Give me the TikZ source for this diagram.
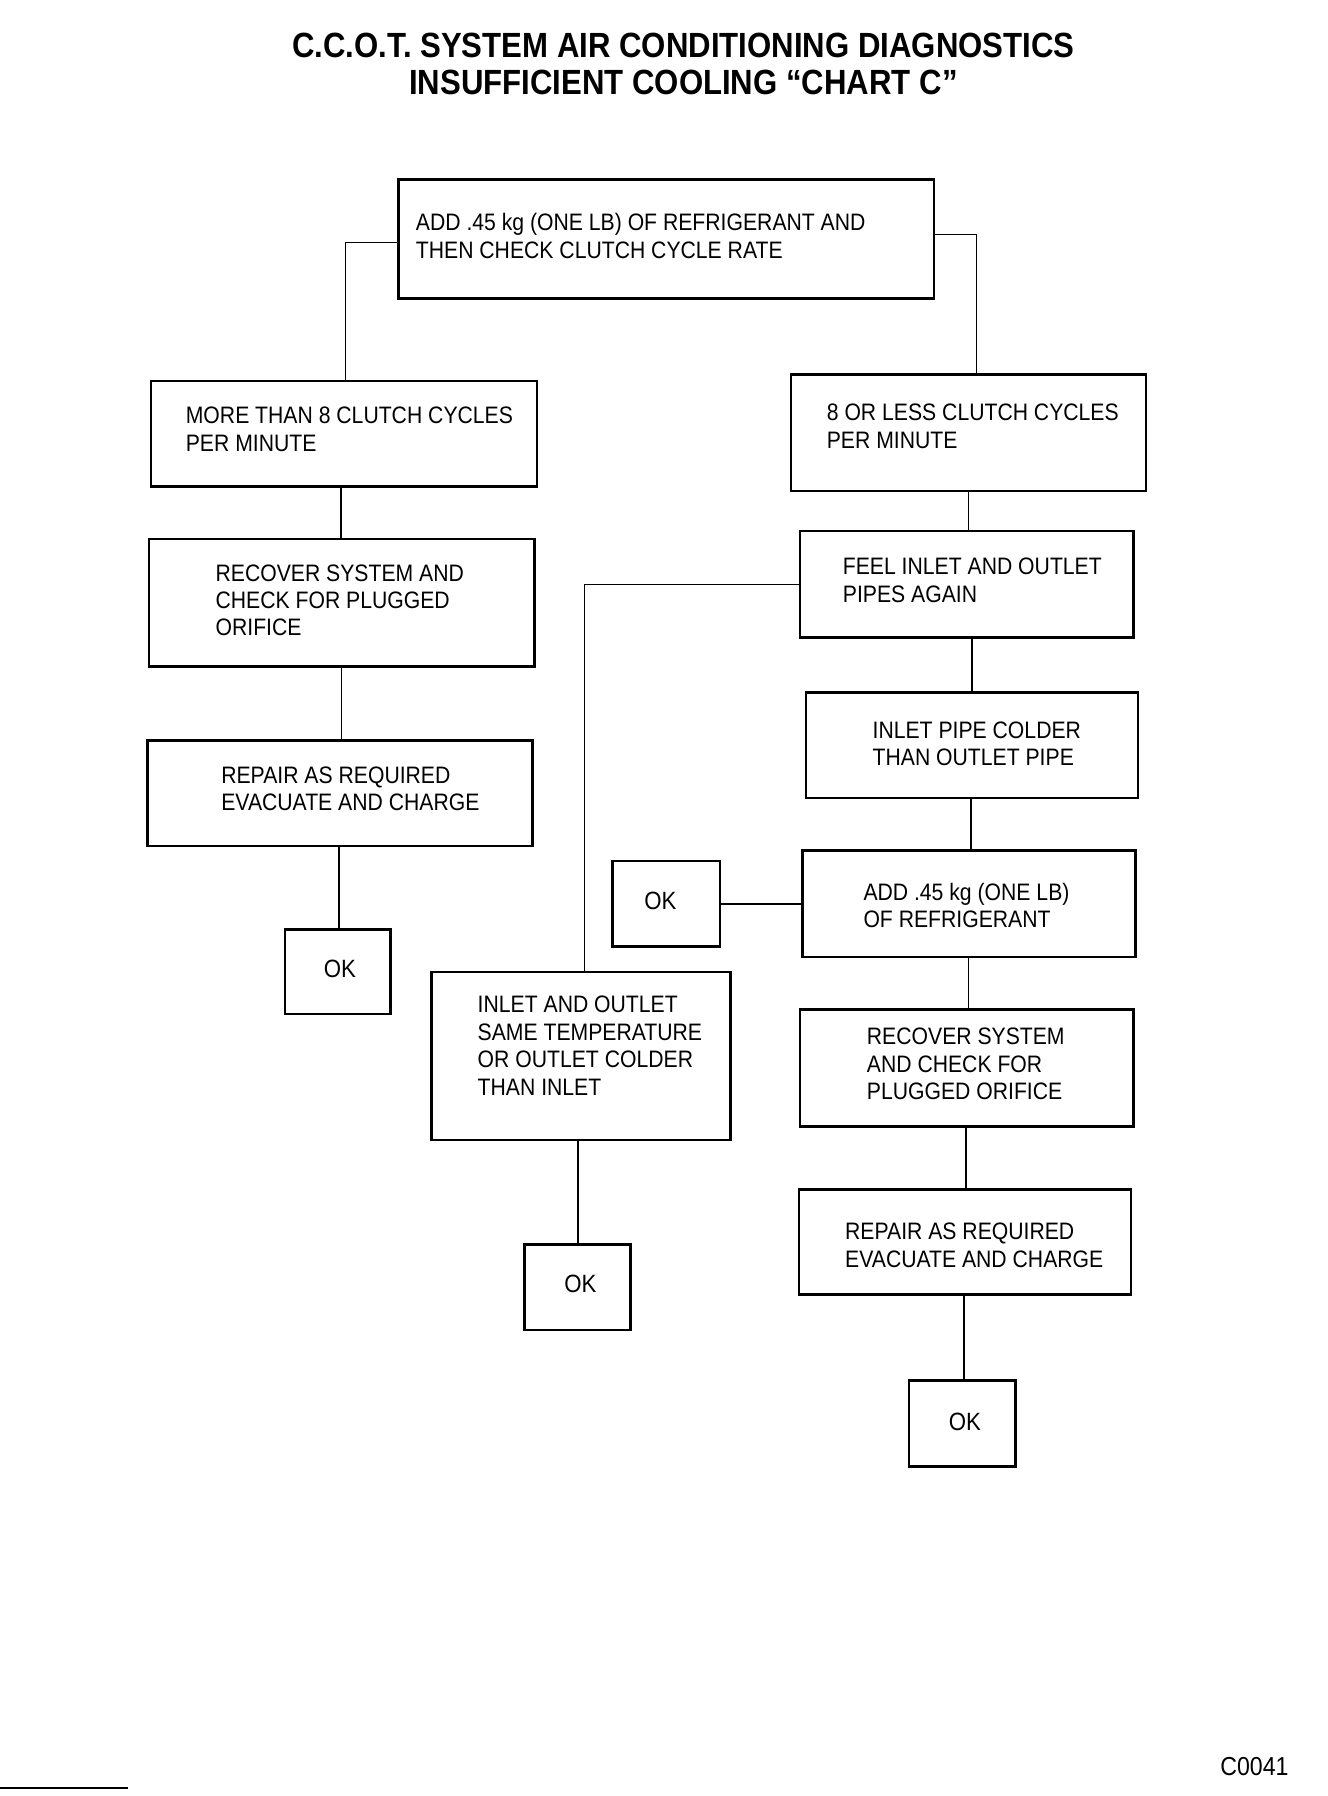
\documentclass[tikz,border=0pt]{standalone}
\usepackage{fontspec}
\setmainfont{Liberation Sans}[FakeStretch=0.89]
\usetikzlibrary{calc}
\def\unitpx{0.5724pt}
\tikzset{
  box/.style={draw, line width=1.3pt, inner sep=0pt, rectangle},
  txt/.style={inner sep=0pt, align=left, anchor=west, font=\fontsize{11.9}{13.7}\selectfont},
  oktxt/.style={inner sep=0pt, font=\fontsize{12.5}{14}\selectfont},
  conn/.style={line width=0.8pt},
}
\begin{document}
\begin{tikzpicture}[x=\unitpx, y=-\unitpx]
\useasboundingbox (0,0) rectangle (1160,1569);

% title
\node[inner sep=0pt, align=center, font=\fontsize{17.5}{18.6}\selectfont\bfseries] (title) at (597,56)
  {C.C.O.T. SYSTEM AIR CONDITIONING DIAGNOSTICS\\INSUFFICIENT COOLING “CHART C”};

% boxes
\node[box, minimum width=468*\unitpx, minimum height=104*\unitpx] (b1) at (582,209) {};
\node[box, minimum width=337*\unitpx, minimum height=92*\unitpx] (b2) at (300.5,379) {};
\node[box, minimum width=310*\unitpx, minimum height=102*\unitpx] (b3) at (846,378) {};
\node[box, minimum width=337*\unitpx, minimum height=111*\unitpx] (b4) at (298.5,526.5) {};
\node[box, minimum width=336*\unitpx, minimum height=92*\unitpx] (b5) at (297,693) {};
\node[box, minimum width=92*\unitpx, minimum height=74*\unitpx] (ok1) at (295,849) {};
\node[box, minimum width=291*\unitpx, minimum height=93*\unitpx] (b7) at (844.5,510.5) {};
\node[box, minimum width=290*\unitpx, minimum height=92*\unitpx] (b8) at (849,651) {};
\node[box, minimum width=291*\unitpx, minimum height=93*\unitpx] (b9) at (846.5,789.5) {};
\node[box, minimum width=94*\unitpx, minimum height=75*\unitpx] (ok2) at (582,789.5) {};
\node[box, minimum width=291*\unitpx, minimum height=102*\unitpx] (b11) at (844.5,933) {};
\node[box, minimum width=290*\unitpx, minimum height=92*\unitpx] (b12) at (843,1085) {};
\node[box, minimum width=93*\unitpx, minimum height=75*\unitpx] (ok4) at (840.5,1243.5) {};
\node[box, minimum width=261*\unitpx, minimum height=147*\unitpx] (b10) at (507.5,922.5) {};
\node[box, minimum width=93*\unitpx, minimum height=75*\unitpx] (ok3) at (504.5,1124.5) {};

% texts
\node[txt] (t1) at (363,206) {ADD .45 kg (ONE LB) OF REFRIGERANT AND\\THEN CHECK CLUTCH CYCLE RATE};
\node[txt] (t2) at (162,375) {MORE THAN 8 CLUTCH CYCLES\\PER MINUTE};
\node[txt] (t3) at (722,372.5) {8 OR LESS CLUTCH CYCLES\\PER MINUTE};
\node[txt] (t4) at (188,524.5) {RECOVER SYSTEM AND\\CHECK FOR PLUGGED\\ORIFICE};
\node[txt] (t5) at (193,689) {REPAIR AS REQUIRED\\EVACUATE AND CHARGE};
\node[txt] (t7) at (736,507) {FEEL INLET AND OUTLET\\PIPES AGAIN};
\node[txt] (t8) at (762,650) {INLET PIPE COLDER\\THAN OUTLET PIPE};
\node[txt] (t9) at (754,791) {ADD .45 kg (ONE LB)\\OF REFRIGERANT};
\node[txt] (t11) at (757,929.5) {RECOVER SYSTEM\\AND CHECK FOR\\PLUGGED ORIFICE};
\node[txt] (t12) at (738,1088) {REPAIR AS REQUIRED\\EVACUATE AND CHARGE};
\node[txt] (t10) at (417,913.5) {INLET AND OUTLET\\SAME TEMPERATURE\\OR OUTLET COLDER\\THAN INLET};
\node[oktxt] (k1) at (297,846) {OK};
\node[oktxt] (k2) at (577,787) {OK};
\node[oktxt] (k3) at (507,1122) {OK};
\node[oktxt] (k4) at (843,1242) {OK};

\node[inner sep=0pt, anchor=east, font=\fontsize{13}{15}\selectfont] (code) at (1126,1543) {C0041};

% connectors
\draw[conn] ($(b1.west)+(0,3)$) -| ($(b2.north)+(1.5,0)$);
\draw[conn] ($(b1.east)+(0,-4)$) -| ($(b3.north)+(7,0)$);
\draw[conn] (b2.south -| 298,0) -- (b4.north -| 298,0);
\draw[conn] (b4.south) -- (b4.south |- b5.north);
\draw[conn] (b5.south -| 296,0) -- (ok1.north -| 296,0);
\draw[conn] (b3.south) -- (b3.south |- b7.north);
\draw[conn] (b7.west) -| ($(b10.north)+(3,0)$);
\draw[conn] (b8.north |- b7.south) -- (b8.north);
\draw[conn] (b8.south -| 848,0) -- (b9.north -| 848,0);
\draw[conn] (ok2.east) -- (ok2.east -| b9.west);
\draw[conn] (b9.south -| 846,0) -- (b11.north -| 846,0);
\draw[conn] (b11.south -| 844,0) -- (b12.north -| 844,0);
\draw[conn] (b12.south -| 842,0) -- (ok4.north -| 842,0);
\draw[conn] (b10.south -| 505,0) -- (ok3.north -| 505,0);

% stray stroke at lower left
\coordinate (s1) at (0,1562);
\coordinate (s2) at (112,1562);
\draw[line width=0.6pt] (s1) -- (s2);
\end{tikzpicture}
\end{document}
